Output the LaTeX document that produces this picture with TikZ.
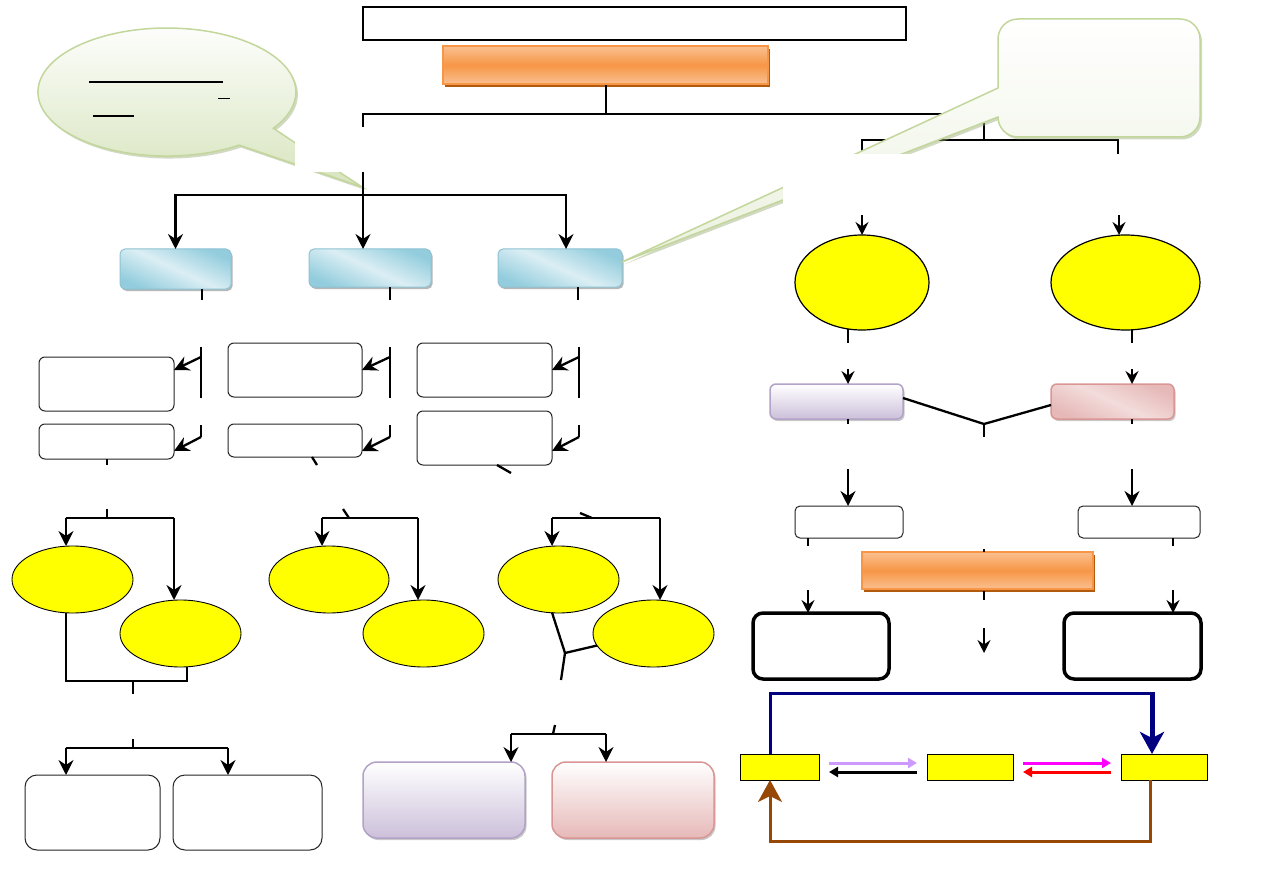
\documentclass[tikz,border=0pt]{standalone}
\usetikzlibrary{arrows.meta,shapes.geometric,shadows,calc}
\definecolor{blueA}{HTML}{93CDDD}
\definecolor{blueB}{HTML}{DBEEF4}
\definecolor{blueE}{HTML}{8FC3D3}
\definecolor{orA}{HTML}{F79646}
\definecolor{orB}{HTML}{FAC090}
\definecolor{orS}{HTML}{B25A0E}
\definecolor{purA}{HTML}{CCC0DA}
\definecolor{purE}{HTML}{B3A2C7}
\definecolor{pinkA}{HTML}{E6B9B8}
\definecolor{pinkB}{HTML}{F2DCDB}
\definecolor{pinkE}{HTML}{D99694}
\definecolor{grnA}{HTML}{D7E4BD}
\definecolor{grnB}{HTML}{EBF1DE}
\definecolor{grnE}{HTML}{C3D69B}
\definecolor{navyC}{HTML}{000080}
\definecolor{brownC}{HTML}{974806}
\definecolor{lavC}{HTML}{CC99FF}
\definecolor{yelC}{HTML}{FFFF00}
\definecolor{magC}{HTML}{FF00FF}
\definecolor{redC}{HTML}{FF0000}
\begin{document}
\begin{tikzpicture}[x=1pt,y=-1pt,
  every node/.style={inner sep=0pt,outer sep=0pt},
  ln/.style={line width=2.3pt},
  tn/.style={line width=1.9pt},
  arr/.style={line width=2.3pt,-{Stealth[length=15pt,width=15pt,inset=5pt]}},
  sarr/.style={line width=1.8pt,-{Stealth[length=13pt,width=13pt,inset=4.5pt]}},
  bigarr/.style={-{Stealth[length=22pt,width=24pt,inset=6pt]}},
  triarr/.style={line width=3pt,-{Triangle[length=9pt,width=10pt]}},
  titlebox/.style={draw=black,line width=1.5pt,fill=white},
  orbar/.style={draw=orA,line width=1.2pt,top color=orB,bottom color=orB,middle color=orA,
     drop shadow={shadow xshift=1.5pt,shadow yshift=-3pt,fill=orS,opacity=1}},
  bluebox/.style={rounded corners=5pt,draw=blueE,line width=1pt,top color=blueA,bottom color=blueA,middle color=blueB,shading angle=-25,
     drop shadow={shadow xshift=1.5pt,shadow yshift=-2pt,fill=gray!70,opacity=0.8}},
  wbox/.style={rounded corners=6pt,draw=black!85,line width=1pt,fill=white},
  thickbox/.style={rounded corners=10pt,draw=black,line width=3.5pt,fill=white},
  yel/.style={ellipse,draw=black,line width=0.9pt,fill=yelC},
  ybox/.style={draw=black,line width=1pt,fill=yelC},
  purbox/.style={draw=purE,line width=1.5pt,top color=white,bottom color=purA,
     drop shadow={shadow xshift=1.5pt,shadow yshift=-2pt,fill=gray!60,opacity=0.7}},
  pinkbox/.style={draw=pinkE,line width=1.5pt,top color=white,bottom color=pinkA,
     drop shadow={shadow xshift=1.5pt,shadow yshift=-2pt,fill=gray!60,opacity=0.7}},
  pinkdiag/.style={rounded corners=6pt,draw=pinkE,line width=1.5pt,top color=pinkA,bottom color=pinkA,middle color=pinkB,shading angle=-25,
     drop shadow={shadow xshift=1.5pt,shadow yshift=-2pt,fill=gray!60,opacity=0.7}},
  callout/.style={draw=grnE,line width=1.5pt,
     drop shadow={shadow xshift=2pt,shadow yshift=-2.5pt,fill=grnE!80!black,opacity=0.45}}
]
\useasboundingbox (0,0) rectangle (1263,893);
\fill[white] (0,0) rectangle (1263,893);

% left speech bubble (drawn first, cut by a blank text area)
\path[callout,top color=white,bottom color=grnA]
  (362,187) -- (239.1,145.1) arc[start angle=56,end angle=394.5,x radius=129,y radius=64] -- cycle;
\draw[line width=2pt] (89,82) -- (223,82);
\draw[line width=1.3pt] (218,98.5) -- (230,98.5);
\draw[line width=1.5pt] (93,116) -- (134,116);
\fill[white] (295,127) rectangle (430,172);

% nodes
\node[titlebox,minimum width=543pt,minimum height=33pt] (title) at (634.5,23.5) {};
\node[orbar,minimum width=325pt,minimum height=38pt] (or1) at (605.5,65) {};
\node[bluebox,minimum width=111pt,minimum height=40pt] (B1) at (175.5,269) {};
\node[bluebox,minimum width=122pt,minimum height=38pt] (B2) at (370,268) {};
\node[bluebox,minimum width=124pt,minimum height=38pt] (B3) at (560,268) {};

\node[wbox,minimum width=135pt,minimum height=54pt] (C1) at (106.5,384) {};
\node[wbox,minimum width=135pt,minimum height=35pt] (C2) at (106.5,441.5) {};
\node[wbox,minimum width=134pt,minimum height=54pt] (D1) at (295,370) {};
\node[wbox,minimum width=134pt,minimum height=33pt] (D2) at (295,440.5) {};
\node[wbox,minimum width=135pt,minimum height=54pt] (F1) at (484.5,370) {};
\node[wbox,minimum width=135pt,minimum height=54pt] (F2) at (484.5,438) {};

\node[yel,minimum width=121pt,minimum height=67pt] (E1) at (72.5,579.5) {};
\node[yel,minimum width=121pt,minimum height=67pt] (E2) at (180.5,633.5) {};
\node[yel,minimum width=120pt,minimum height=67pt] (E3) at (329,579.5) {};
\node[yel,minimum width=121pt,minimum height=67pt] (E4) at (423.5,633.5) {};
\node[yel,minimum width=121pt,minimum height=67pt] (E5) at (558.5,579.5) {};
\node[yel,minimum width=121pt,minimum height=67pt] (E6) at (653.5,633.5) {};

\node[wbox,rounded corners=12pt,minimum width=135pt,minimum height=75pt] (G1) at (92.5,812.5) {};
\node[wbox,rounded corners=12pt,minimum width=149pt,minimum height=75pt] (G2) at (247.5,812.5) {};
\node[purbox,rounded corners=14pt,minimum width=162pt,minimum height=76pt] (P) at (444,800) {};
\node[pinkbox,rounded corners=14pt,minimum width=162pt,minimum height=76pt] (R) at (633,800) {};

\node[yel,line width=1.2pt,minimum width=134pt,minimum height=95pt] (Y1) at (862,282.5) {};
\node[yel,line width=1.2pt,minimum width=149pt,minimum height=95pt] (Y2) at (1125.5,282.5) {};
\node[purbox,rounded corners=6pt,minimum width=133pt,minimum height=35pt] (L) at (836.5,401.5) {};
\node[pinkdiag,minimum width=123pt,minimum height=35pt] (M) at (1112.5,401.5) {};
\node[wbox,rounded corners=5pt,minimum width=108pt,minimum height=32pt] (N1) at (849,522) {};
\node[wbox,rounded corners=5pt,minimum width=122pt,minimum height=32pt] (N2) at (1139,522) {};
\node[orbar,minimum width=231pt,minimum height=37pt] (or2) at (977.5,570.5) {};
\node[thickbox,minimum width=136pt,minimum height=66pt] (K1) at (821,646) {};
\node[thickbox,minimum width=137pt,minimum height=66pt] (K2) at (1132.5,646) {};
\node[ybox,minimum width=79pt,minimum height=26pt] (S1) at (779.5,767) {};
\node[ybox,minimum width=86pt,minimum height=26pt] (S2) at (970,767) {};
\node[ybox,minimum width=86pt,minimum height=26pt] (S3) at (1164,767) {};

% top connectors
\coordinate (t0) at (606,114);
\coordinate (tl) at (363,127);
\coordinate (tr) at (984,140);
\coordinate (ra) at (862,154);
\coordinate (rb) at (1118,154);
\draw[ln] ($(or1.south)+(0.5,1.5)$) -- (t0);
\draw[ln] (tl) |- (t0) -| (tr);
\draw[tn] (ra) |- (tr) -| (rb);

% left tree
\coordinate (h0) at (363,172);
\coordinate (h1) at (363,195);
\draw[ln] (h0) -- (h1);
\draw[arr] (h1) -| (B1.north);
\draw[arr] (h1) -- (h1 |- B2.north);
\draw[arr] (h1) -| ($(B3.north)+(6,0)$);

\draw[ln] ($(B1.south)+(26.5,0)$) -- ++(0,11);
\draw[ln] ($(B2.south)+(20,0)$) -- ++(0,13);
\draw[ln] ($(B3.south)+(18,0)$) -- ++(0,13);

\foreach \x/\a/\b in {201/C1/C2,390/D1/D2,579/F1/F2}{
  \draw[ln] (\x,347) -- (\x,398);
  \draw[arr] (\x,357) -- ($(\a.east |- 0,370)$);
  \draw[ln] (\x,425) -- (\x,437);
  \draw[arr] (\x,437) -- ($(\b.east |- 0,451)$);
}

% column 1
\draw[ln] ($(C2.south)+(0.5,0)$) -- ++(0,6);
\draw[ln] (107,509) -- (107,518);
\coordinate (c1l) at (66,518);
\coordinate (c1r) at (174,518);
\draw[ln] (c1l) -- (c1r);
\draw[arr] (c1l) -- (c1l |- E1.north);
\draw[arr] (c1r) -- (c1r |- E2.north);
\coordinate (j1) at (133,681);
\draw[ln] (E1.south -| c1l) |- (j1) -| ($(E2.south)+(6.5,0)$);
\draw[ln] (j1) -- (133,694);
\draw[ln] (133,739) -- (133,748);
\coordinate (g1) at (66,748);
\coordinate (g2) at (228,748);
\draw[line width=2.8pt] (g1) -- (g2);
\draw[arr] (g1) -- (g1 |- G1.north);
\draw[arr] (g2) -- (g2 |- G2.north);

% column 2
\draw[ln] (312,457) -- (317,465);
\draw[ln] (343,509) -- (349,518);
\coordinate (c2l) at (322,518);
\coordinate (c2r) at (418,518);
\draw[ln] (c2l) -- (c2r);
\draw[arr] (c2l) -- (c2l |- E3.north);
\draw[arr] (c2r) -- (c2r |- E4.north);

% column 3
\draw[ln] (497,465) -- (511,473);
\draw[ln] (580,513) -- (592,518);
\coordinate (c3l) at (552,518);
\coordinate (c3r) at (660,518);
\draw[ln] (c3l) -- (c3r);
\draw[arr] (c3l) -- (c3l |- E5.north);
\draw[arr] (c3r) -- (c3r |- E6.north);
\coordinate (j3) at (565,653);
\draw[ln] ($(E5.south)+(-6.5,-0.5)$) -- (j3);
\draw[ln] (j3) -- (E6.192);
\draw[ln] (j3) -- (561,680);
\draw[ln] (555,725) -- (553,734);
\coordinate (p1) at (511,734);
\coordinate (p2) at (606,734);
\draw[ln] (p1) -- (p2);
\draw[arr] (p1) -- (p1 |- P.north);
\draw[arr] (p2) -- (p2 |- R.north);

% right part
\coordinate (ya) at (862,215);
\coordinate (yb) at (1119,215);
\draw[sarr] (ya) -- (Y1.north);
\draw[sarr] (yb) -- (yb |- Y2.north);
\draw[tn] ($(Y1.south)+(-14,-1)$) -- ++(0,14);
\draw[tn] ($(Y2.south)+(6.5,-1)$) -- ++(0,14);
\coordinate (la) at (848,369);
\coordinate (ma) at (1132,369);
\draw[sarr] (la) -- (la |- L.north);
\draw[sarr] (ma) -- (ma |- M.north);
\coordinate (lm) at (984,424);
\draw[ln] ($(L.east)+(0,-3.5)$) -- (lm) -- ($(M.west)+(0,3.5)$);
\draw[ln] (lm) -- (984,437);
\draw[tn] ($(L.south)+(11.5,0)$) -- ++(0,5);
\draw[tn] ($(M.south)+(19.5,0)$) -- ++(0,5);
\coordinate (na) at (848,469);
\coordinate (nb) at (1132,469);
\draw[arr] (na) -- (na |- N1.north);
\draw[arr] (nb) -- (nb |- N2.north);
\draw[tn] ($(N1.south)+(-41,0)$) -- ++(0,8);
\draw[tn] ($(N2.south)+(34,0)$) -- ++(0,8);
\draw[tn] (984,549) -- ($(or2.north)+(6.5,0)$);
\draw[tn] ($(or2.south)+(6.5,2)$) -- ++(0,9);
\coordinate (ka) at (808,590);
\coordinate (kb) at (1173,590);
\draw[sarr] (ka) -- (ka |- K1.north);
\draw[sarr] (kb) -- (kb |- K2.north);
\coordinate (ca) at (984,628);
\coordinate (cb) at (984,653);
\draw[sarr,line width=1.6pt] (ca) -- (cb);

% cycle
\coordinate (bt) at (1152,693);
\draw[navyC,line width=3pt] ($(S1.north)+(-9.5,0)$) |- (bt);
\draw[navyC,line width=5pt,bigarr] ($(bt)+(0,-1.5)$) -- ($(S3.north)+(-12,0)$);
\coordinate (bb) at (770,841);
\draw[brownC,line width=3pt,bigarr] ($(S3.south)+(-14,0)$) |- (bb) -- ($(S1.south)+(-9.5,0)$);
\draw[lavC,triarr] ($(S1.east)+(10,-4)$) -- ($(S2.west)+(-10,-4)$);
\draw[black,triarr] ($(S2.west)+(-10,5)$) -- ($(S1.east)+(10,5)$);
\draw[magC,triarr] ($(S2.east)+(10,-4)$) -- ($(S3.west)+(-10,-4)$);
\draw[redC,triarr] ($(S3.west)+(-10,5)$) -- ($(S2.east)+(10,5)$);

% right speech bubble
\path[callout,top color=white,bottom color=grnB]
  (622,262) -- (998,117) arc[start angle=180,end angle=90,radius=20] -- (1180,137)
  arc[start angle=90,end angle=0,radius=20] -- (1200,39)
  arc[start angle=0,end angle=-90,radius=20] -- (1018,19)
  arc[start angle=-90,end angle=-180,radius=20] -- (998,88) -- cycle;
\fill[white] (783,154) rectangle (1263,213);
\end{tikzpicture}
\end{document}
